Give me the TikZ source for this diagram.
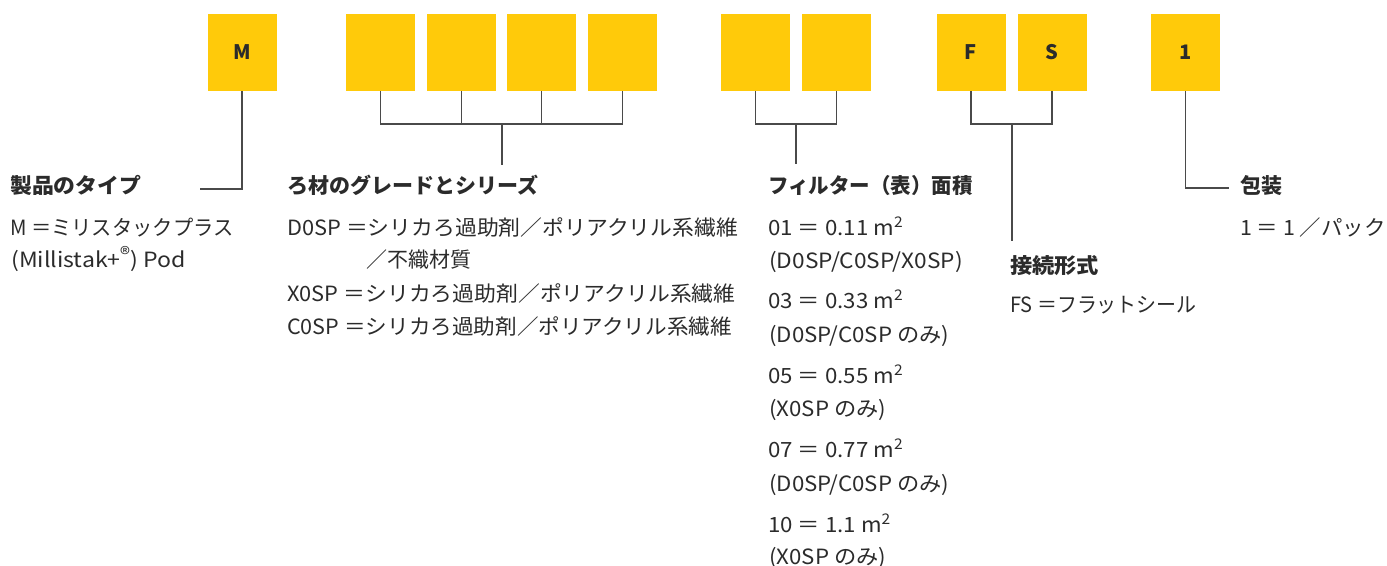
\documentclass[tikz,border=0pt]{standalone}
\usepackage{fontspec}
\usepackage{graphicx}
\setmainfont{Noto Sans CJK JP}
\definecolor{ybox}{HTML}{FFCA0A}
\definecolor{lin}{HTML}{4A4A4A}
\definecolor{txt}{HTML}{2B2B2B}
\newcommand{\regmark}{\raisebox{0.45ex}{\fontsize{19}{19}\selectfont ®}}
\newcommand{\sqm}{m\textsuperscript{2}}
\newcommand{\hs}[2]{\scalebox{#1}[1]{#2}}
\begin{document}
\begin{tikzpicture}[x=1pt,y=-1pt,
  codebox/.style={fill=ybox,draw=none,minimum width=69pt,minimum height=77pt,inner sep=0pt,font=\fontsize{20}{20}\selectfont\bfseries,text=txt},
  conn/.style={draw=lin,line width=1.1pt},
  head/.style={anchor=base west,inner sep=0pt,font=\fontsize{21}{21}\selectfont\bfseries,text=txt},
  body/.style={anchor=base west,inner sep=0pt,font=\fontsize{21}{21}\selectfont,text=txt}]
\useasboundingbox (0,0) rectangle (1387,565);
% boxes
\node[codebox] (bM) at (242,52.5) {M};
\node[codebox] (b1) at (380.5,52.5) {};
\node[codebox] (b2) at (461.5,52.5) {};
\node[codebox] (b3) at (541.5,52.5) {};
\node[codebox] (b4) at (622.5,52.5) {};
\node[codebox] (f1) at (755.5,52.5) {};
\node[codebox] (f2) at (836.5,52.5) {};
\node[codebox] (cF) at (971,52.5) {F};
\node[codebox] (cS) at (1052,52.5) {S};
\node[codebox] (p1) at (1185.5,52.5) {1};
% coordinates
\coordinate (mEnd) at (200,189);
\coordinate (gJ) at (502,124);
\coordinate (gEnd) at (502,165);
\coordinate (fJ) at (796,124);
\coordinate (fEnd) at (796,164);
\coordinate (cJ) at (1012,124);
\coordinate (cEnd) at (1012,241);
\coordinate (pEnd) at (1229,188);
% connectors
\draw[conn] (bM.south) |- (mEnd);
\draw[conn] (b1.south) |- (gJ) -| (b4.south);
\draw[conn] (b2.south) -- (b2.south |- gJ);
\draw[conn] (b3.south) -- (b3.south |- gJ);
\draw[conn] (gJ) -- (gEnd);
\draw[conn] (f1.south) |- (fJ) -| (f2.south);
\draw[conn] (fJ) -- (fEnd);
\draw[conn] (cF.south) |- (cJ) -| (cS.south);
\draw[conn] (cJ) -- (cEnd);
\draw[conn] (p1.south) |- (pEnd);
% product type
\node[head] (hM) at (10,193) {\hs{1.04}{製品のタイプ}};
\node[body] (tM1) at (10,235) {\hs{0.965}{M ＝ミリスタックプラス}};
\node[body] (tM2) at (11,267) {\hs{1.1}{(Millistak+\regmark)\ Pod}};
% grade
\node[head] (hG) at (287,193) {ろ材のグレードとシリーズ};
\node[body] (tG1) at (287,235) {\hs{1.04}{D0SP ＝シリカろ過助剤／ポリアクリル系繊維}};
\node[body] (tG2) at (366,267) {／不織材質};
\node[body] (tG3) at (287,301) {\hs{1.04}{X0SP ＝シリカろ過助剤／ポリアクリル系繊維}};
\node[body] (tG4) at (287,334) {\hs{1.028}{C0SP ＝シリカろ過助剤／ポリアクリル系繊維}};
% filter area
\node[head] (hF) at (768,193) {\hs{0.975}{フィルター（表）面積}};
\node[body] (tF1) at (768,235) {\hs{1.06}{01 ＝ 0.11 \sqm}};
\node[body] (tF2) at (769,268) {\hs{1.08}{(D0SP/C0SP/X0SP)}};
\node[body] (tF3) at (768,308) {\hs{1.06}{03 ＝ 0.33 \sqm}};
\node[body] (tF4) at (769,342) {\hs{1.06}{(D0SP/C0SP のみ)}};
\node[body] (tF5) at (768,383) {\hs{1.06}{05 ＝ 0.55 \sqm}};
\node[body] (tF6) at (769,416) {\hs{1.06}{(X0SP のみ)}};
\node[body] (tF7) at (768,457) {\hs{1.06}{07 ＝ 0.77 \sqm}};
\node[body] (tF8) at (769,491) {\hs{1.06}{(D0SP/C0SP のみ)}};
\node[body] (tF9) at (768,532) {\hs{1.06}{10 ＝ 1.1 \sqm}};
\node[body] (tF10) at (769,564) {\hs{1.06}{(X0SP のみ)}};
% connection
\node[head] (hC) at (1010,273) {\hs{1.06}{接続形式}};
\node[body] (tC1) at (1010,312) {\hs{0.95}{FS ＝フラットシール}};
% packaging
\node[head] (hP) at (1240,193) {包装};
\node[body] (tP1) at (1240,235) {\hs{1.02}{1 ＝ 1 ／パック}};
\end{tikzpicture}
\end{document}
